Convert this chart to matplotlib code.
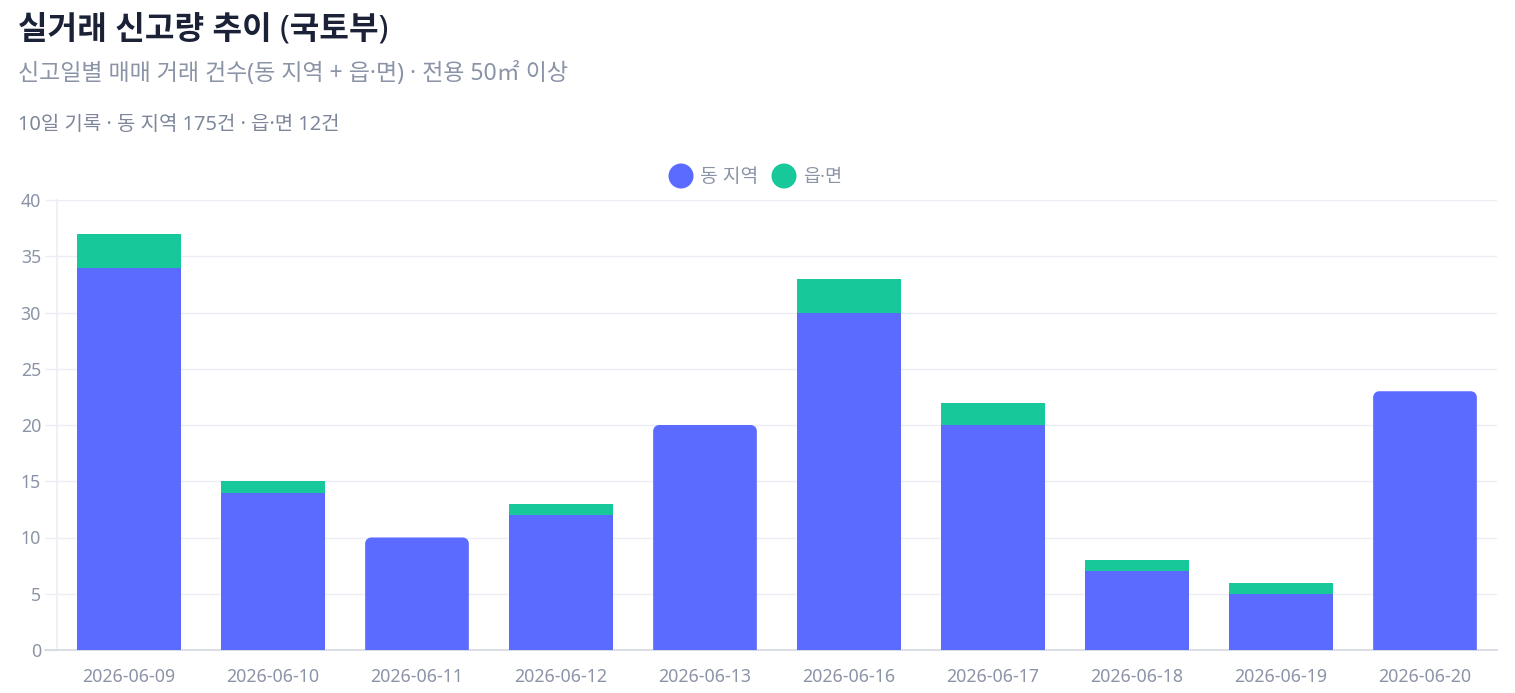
import matplotlib
matplotlib.use("Agg")
import matplotlib.pyplot as plt
from matplotlib.path import Path
from matplotlib.patches import PathPatch, Circle
import numpy as np

plt.rcParams['font.family'] = ['Noto Sans', 'Noto Sans CJK KR', 'DejaVu Sans']

dates = ["2026-06-09", "2026-06-10", "2026-06-11", "2026-06-12", "2026-06-13",
         "2026-06-16", "2026-06-17", "2026-06-18", "2026-06-19", "2026-06-20"]
dong = [34, 14, 10, 12, 20, 30, 20, 7, 5, 23]
eupmyeon = [3, 1, 0, 1, 0, 3, 2, 1, 1, 0]
yticks = [0, 5, 10, 15, 20, 25, 30, 35, 40]

title = "실거래 신고량 추이 (국토부)"
subtitle = "신고일별 매매 거래 건수(동 지역 + 읍·면) · 전용 50㎡ 이상"
summary = "10일 기록 · 동 지역 175건 · 읍·면 12건"
series_names = ["동 지역", "읍·면"]

BLUE = "#5b6bff"
GREEN = "#17c89a"
GRID = "#eceef5"
TICK = "#8b93a7"

W, H = 1515, 693
fig = plt.figure(figsize=(W / 100, H / 100), dpi=100)
ax = fig.add_axes([57 / W, 43 / H, 1440 / W, 450 / H])

x = np.arange(len(dates))
bw = 0.72
b1 = ax.bar(x, dong, width=bw, color=BLUE, edgecolor='none', zorder=3)
b2 = ax.bar(x, eupmyeon, width=bw, bottom=dong, color=GREEN, edgecolor='none', zorder=3)

ax.set_xlim(-0.5, len(dates) - 0.5)
ax.set_ylim(0, 40)
ax.set_yticks(yticks)
ax.set_xticks(x)
ax.set_xticklabels(dates)

fig.canvas.draw()
renderer = fig.canvas.get_renderer()


def fit_text(t, target_px):
    """Scale a text's font size so its rendered width matches target_px."""
    for _ in range(3):
        w = t.get_window_extent(renderer).width
        t.set_fontsize(t.get_fontsize() * target_px / w)


# rounded top corners for blue bars that are the top segment
def rounded_top(rect, rpx, color):
    x0, y0 = rect.get_x(), rect.get_y()
    w, h = rect.get_width(), rect.get_height()
    inv = ax.transData.inverted()
    p0 = ax.transData.transform((0, 0))
    p1 = inv.transform((p0[0] + rpx, p0[1] + rpx))
    rx, ry = p1[0], p1[1]
    x1, y1 = x0 + w, y0 + h
    k = 0.5523
    verts = [(x0, y0), (x0, y1 - ry),
             (x0, y1 - ry + k * ry), (x0 + rx - k * rx, y1), (x0 + rx, y1),
             (x1 - rx, y1),
             (x1 - rx + k * rx, y1), (x1, y1 - ry + k * ry), (x1, y1 - ry),
             (x1, y0), (x0, y0)]
    codes = [Path.MOVETO, Path.LINETO,
             Path.CURVE4, Path.CURVE4, Path.CURVE4,
             Path.LINETO,
             Path.CURVE4, Path.CURVE4, Path.CURVE4,
             Path.LINETO, Path.CLOSEPOLY]
    ax.add_patch(PathPatch(Path(verts, codes), facecolor=color, edgecolor='none', zorder=3))


for rect, e in zip(b1, eupmyeon):
    if e == 0:
        rect.set_visible(False)
        rounded_top(rect, 6, BLUE)

ax.grid(axis='y', color=GRID, linewidth=1, zorder=0)
ax.set_axisbelow(True)
for s in ['top', 'right']:
    ax.spines[s].set_visible(False)
ax.spines['left'].set_color(GRID)
ax.spines['left'].set_linewidth(1.2)
ax.spines['bottom'].set_color("#d3d7e0")
ax.spines['bottom'].set_linewidth(1.2)
ax.tick_params(axis='y', length=8.5, color=GRID, width=1, labelsize=12.6, labelcolor=TICK, pad=3)
ax.tick_params(axis='x', length=0, labelsize=12.6, labelcolor=TICK, pad=13)
ax.plot([-0.5 - 12 / 144, -0.5], [0, 0], color="#d3d7e0", lw=1.2, clip_on=False)

fig.canvas.draw()
for lab in ax.get_xticklabels():
    fit_text(lab, 93)
fs_tick = ax.get_xticklabels()[0].get_fontsize()
ax.tick_params(axis='both', labelsize=fs_tick)

t1 = fig.text(18 / W, 1 - 30 / H, title, fontsize=22, fontweight='bold', color="#1b2238", va='center', ha='left')
t2 = fig.text(18 / W, 1 - 74 / H, subtitle, fontsize=15, color="#8b93a7", va='center', ha='left')
t3 = fig.text(18 / W, 1 - 125 / H, summary, fontsize=13, color="#7d869a", va='center', ha='left')
fit_text(t1, 370)
fit_text(t2, 550)
fit_text(t3, 322)

# legend
ly = 1 - 177 / H
for cx, tx, wpx, col, name in [(681, 700, 58, BLUE, series_names[0]), (784, 803, 39, GREEN, series_names[1])]:
    fig.patches.append(Circle((cx, H - 176), 12.5, transform=None, facecolor=col, edgecolor='none'))
    t = fig.text(tx / W, ly, name, fontsize=13, color="#8b93a7", va='center', ha='left')
    fit_text(t, wpx)

fig.savefig("out.png", dpi=100)
